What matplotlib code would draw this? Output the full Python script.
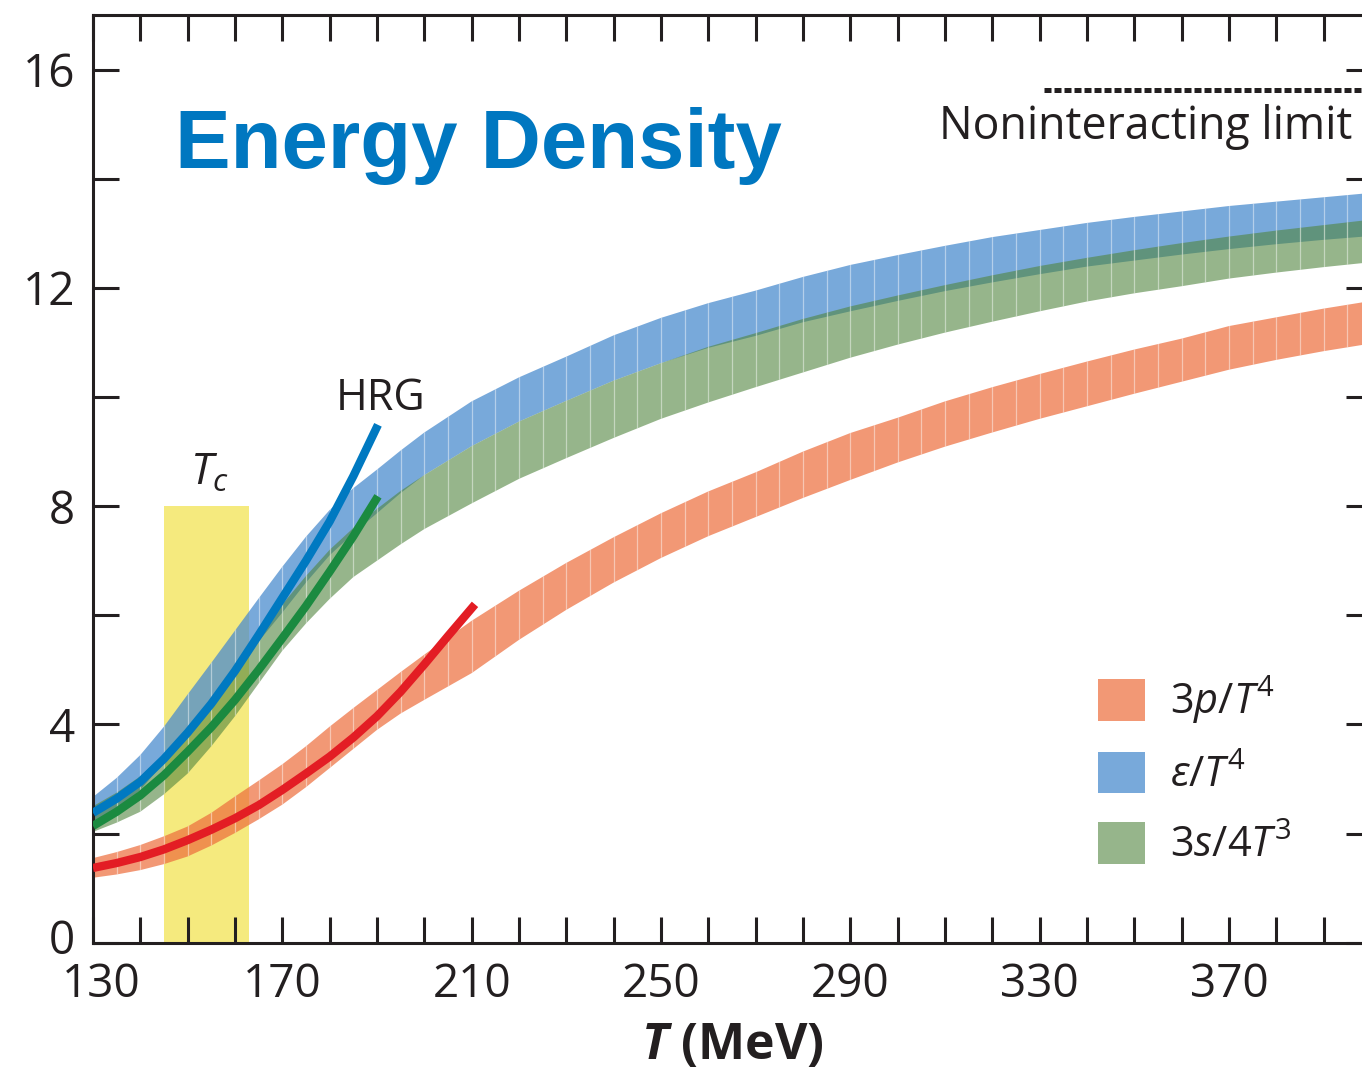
import numpy as np
import matplotlib
matplotlib.use('Agg')
import matplotlib.pyplot as plt
from matplotlib.patches import Rectangle
from matplotlib.transforms import ScaledTranslation

# ---------------- data ----------------
T_grid = [130, 135, 140, 145, 150, 155, 160, 165, 170, 175, 180, 185, 190, 195, 200,
          210, 220, 230, 240, 250, 260, 270, 280, 290, 300, 310, 320, 330, 340, 350,
          360, 370, 380, 390, 400]

eps_hi = [2.67, 3.02, 3.44, 3.96, 4.55, 5.13, 5.72, 6.31, 6.89, 7.44, 7.93, 8.33, 8.67, 9.02, 9.35,
          9.92, 10.36, 10.74, 11.13, 11.45, 11.72, 11.95, 12.20, 12.42, 12.60, 12.77, 12.93, 13.06,
          13.19, 13.30, 13.40, 13.50, 13.58, 13.66, 13.74]
eps_lo = [2.07, 2.40, 2.80, 3.30, 3.82, 4.38, 4.95, 5.52, 6.05, 6.60, 7.10, 7.50, 7.87, 8.24, 8.57,
          9.10, 9.55, 9.93, 10.30, 10.62, 10.90, 11.12, 11.37, 11.57, 11.76, 11.94, 12.10, 12.25,
          12.39, 12.50, 12.61, 12.71, 12.80, 12.88, 12.95]

s_hi = [2.50, 2.75, 3.05, 3.45, 3.90, 4.45, 5.05, 5.65, 6.20, 6.72, 7.20, 7.60, 7.95, 8.28, 8.57,
        9.10, 9.55, 9.93, 10.30, 10.62, 10.92, 11.17, 11.43, 11.66, 11.86, 12.05, 12.23, 12.40,
        12.55, 12.69, 12.82, 12.94, 13.05, 13.15, 13.25]
s_lo = [2.03, 2.20, 2.40, 2.72, 3.10, 3.60, 4.15, 4.75, 5.35, 5.85, 6.30, 6.70, 7.00, 7.30, 7.58,
        8.05, 8.50, 8.88, 9.25, 9.60, 9.90, 10.18, 10.45, 10.72, 10.96, 11.18, 11.38, 11.57,
        11.75, 11.90, 12.03, 12.17, 12.28, 12.38, 12.47]

p_hi = [1.55, 1.66, 1.79, 1.95, 2.13, 2.38, 2.68, 2.97, 3.27, 3.60, 3.96, 4.30, 4.63, 4.96, 5.28,
        5.90, 6.45, 6.96, 7.43, 7.87, 8.27, 8.62, 9.00, 9.34, 9.62, 9.92, 10.18, 10.42,
        10.65, 10.87, 11.07, 11.30, 11.46, 11.62, 11.76]
p_lo = [1.19, 1.25, 1.33, 1.44, 1.58, 1.78, 2.01, 2.26, 2.53, 2.85, 3.20, 3.55, 3.90, 4.20, 4.45,
        4.94, 5.55, 6.10, 6.60, 7.05, 7.45, 7.80, 8.15, 8.48, 8.80, 9.09, 9.35, 9.60,
        9.83, 10.06, 10.28, 10.50, 10.68, 10.84, 10.98]

# hadron resonance gas curves
hrg_eps_T = [130, 135, 140, 145, 150, 155, 160, 165, 170, 175, 180, 185, 190.2]
hrg_eps = [2.38, 2.64, 2.95, 3.37, 3.85, 4.38, 4.98, 5.64, 6.32, 7.00, 7.72, 8.55, 9.49]
hrg_s_T = [130, 135, 140, 145, 150, 155, 160, 165, 170, 175, 180, 185, 190.2]
hrg_s = [2.14, 2.40, 2.70, 3.07, 3.50, 3.95, 4.45, 5.00, 5.58, 6.17, 6.80, 7.45, 8.18]
hrg_p_T = [130, 135, 140, 145, 150, 155, 160, 165, 170, 175, 180, 185, 190, 195, 200, 205, 210.7]
hrg_p = [1.37, 1.46, 1.57, 1.71, 1.88, 2.07, 2.28, 2.52, 2.80, 3.10, 3.41, 3.76, 4.15, 4.60, 5.10, 5.62, 6.20]

Tc_range = [145, 163]
Tc_top = 8.0
sb_limit = 15.63
sb_start = 331

labels = [r'$3p/T^4$', r'$\varepsilon/T^4$', r'$3s/4T^3$']
x_ticks = list(range(130, 401, 10))
x_labels = [str(t) if (t - 130) % 40 == 0 else '' for t in x_ticks]
y_ticks = list(range(0, 17, 2))
y_labels = [str(v) if v % 4 == 0 else '' for v in y_ticks]

# ---------------- style ----------------
FONT = 'Open Sans'
plt.rcParams['font.family'] = [FONT, 'DejaVu Sans']
plt.rcParams['mathtext.fontset'] = 'custom'
plt.rcParams['mathtext.rm'] = FONT
plt.rcParams['mathtext.it'] = FONT + ':italic'
plt.rcParams['mathtext.bf'] = FONT + ':bold:italic'
INK = '#231f20'

fig = plt.figure(figsize=(13.62, 10.75), dpi=100)
ax = fig.add_axes([93 / 1362, 132.3 / 1075, (1372 - 93) / 1362, 927.7 / 1075])
ax.set_xlim(130, 400.2)
ax.set_ylim(0, 17.0)
for s in ax.spines.values():
    s.set_linewidth(2.2)
    s.set_color(INK)

ax.add_patch(Rectangle((Tc_range[0], 0), Tc_range[1] - Tc_range[0], Tc_top,
                       facecolor='#f5ea7e', edgecolor='none', zorder=1))


def stripes(poly, z):
    path = poly.get_paths()[0]
    xs = np.arange(135, 400, 5)
    lc = ax.vlines(xs, 0, 17, colors='white', linewidth=0.9, alpha=0.45, zorder=z)
    lc.set_clip_path(path, ax.transData)


blue = ax.fill_between(T_grid, eps_lo, eps_hi, facecolor=(75 / 255, 140 / 255, 206 / 255),
                       alpha=0.75, lw=0, zorder=2, label=labels[1])
stripes(blue, 2.05)
green = ax.fill_between(T_grid, s_lo, s_hi, facecolor=(80 / 255, 133 / 255, 62 / 255),
                        alpha=0.6, lw=0, zorder=2.1, label=labels[2])
stripes(green, 2.15)
red = ax.fill_between(T_grid, p_lo, p_hi, facecolor=(237 / 255, 108 / 255, 59 / 255),
                      alpha=0.7, lw=0, zorder=2.2, label=labels[0])
stripes(red, 2.25)

ax.plot(hrg_eps_T, hrg_eps, color='#0079c1', lw=6.0, solid_capstyle='butt',
        solid_joinstyle='round', zorder=3)
ax.plot(hrg_s_T, hrg_s, color='#1b8a40', lw=6.0, solid_capstyle='butt',
        solid_joinstyle='round', zorder=3)
ax.plot(hrg_p_T, hrg_p, color='#e31d24', lw=6.0, solid_capstyle='butt',
        solid_joinstyle='round', zorder=3)

ax.plot([sb_start, 400.2], [sb_limit, sb_limit], color=INK, lw=3.6,
        dashes=(1.4, 0.6), dash_capstyle='butt', zorder=3)

ax.set_xticks(x_ticks)
ax.set_xticklabels(x_labels)
ax.set_yticks(y_ticks)
ax.set_yticklabels(y_labels)
ax.tick_params(which='both', direction='in', length=18.7, width=2.2, color=INK,
               top=True, right=True, labelsize=33, labelcolor=INK)
ax.tick_params(axis='x', pad=14)
ax.tick_params(axis='y', pad=13)

# small offsets seen in the reference: "0" sits a little high, "130" a little right
lab0 = ax.yaxis.get_major_ticks()[0].label1
lab0.set_transform(lab0.get_transform() + ScaledTranslation(0, 6 / 100, fig.dpi_scale_trans))
lab130 = ax.xaxis.get_major_ticks()[0].label1
lab130.set_transform(lab130.get_transform() + ScaledTranslation(8 / 100, 0, fig.dpi_scale_trans))

ax.set_xlabel(r'$\mathbf{T}$ (MeV)', fontsize=36, fontweight='bold', color=INK, labelpad=9)

ax.text(147.3, 14.2, 'Energy Density', family='Liberation Sans', fontweight='bold',
        fontsize=60, color='#0077c0', ha='left', va='baseline')
ax.text(396, 14.72, 'Noninteracting limit', fontsize=32.1, color=INK, ha='right', va='baseline')
ax.text(181.3, 9.76, 'HRG', fontsize=31, color=INK, ha='left', va='baseline')
ax.text(150.5, 8.4, r'$T_c$', fontsize=32, color=INK, ha='left', va='baseline')

ax.legend(handles=[red, blue, green], labels=labels, loc='upper left',
          bbox_to_anchor=((1098 - 93) / 1279, (942.7 - 675) / 927.7),
          frameon=False, fontsize=30, handlelength=1.13, handleheight=1.14,
          handletextpad=0.6, labelspacing=0.62, borderpad=0, borderaxespad=0,
          labelcolor=INK)

fig.savefig('out.png', dpi=100)
